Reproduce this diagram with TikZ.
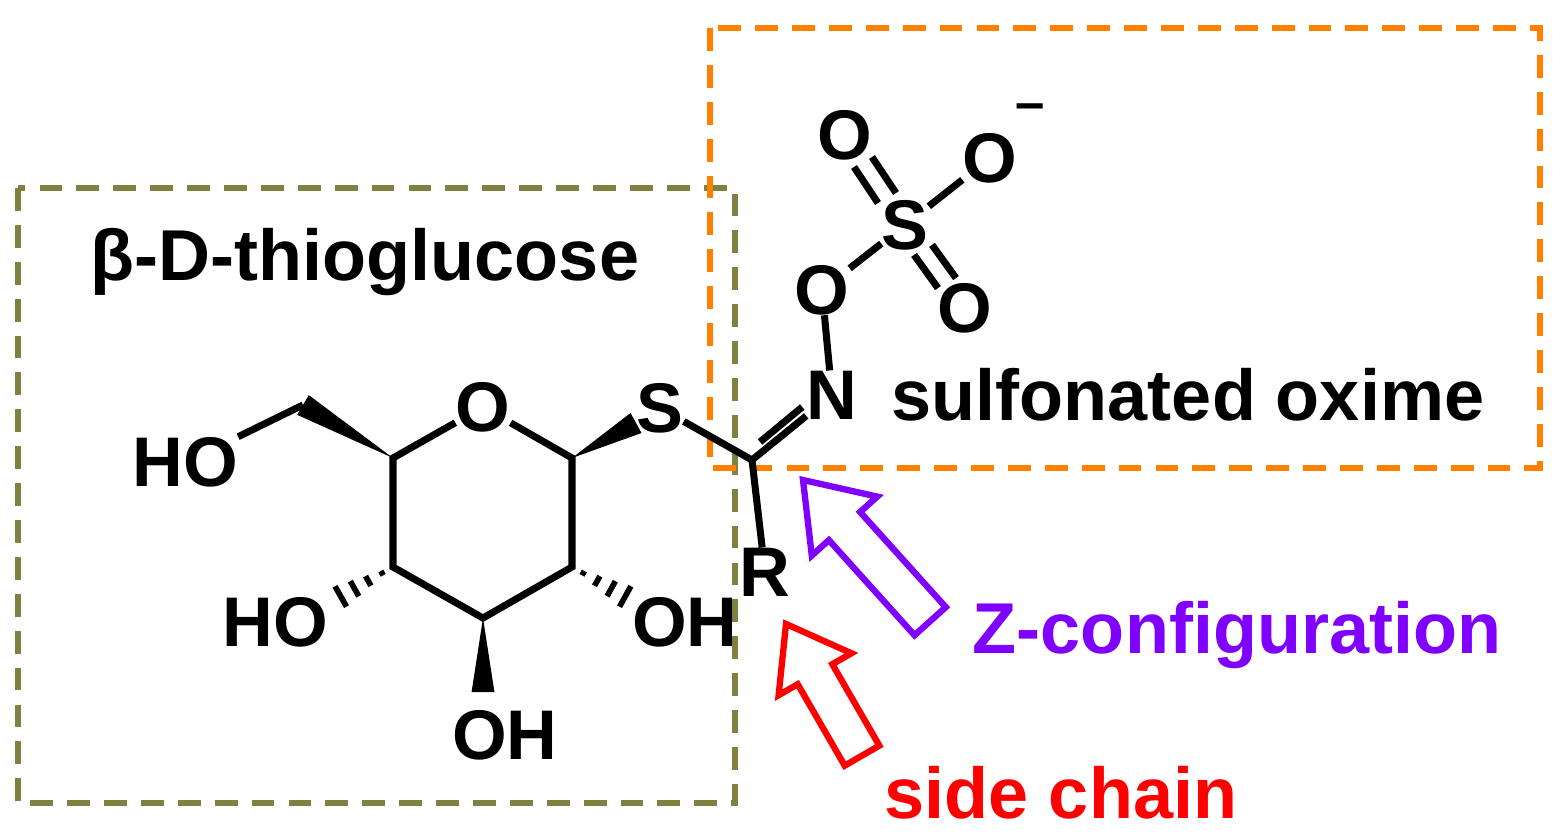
\documentclass[tikz,border=0pt]{standalone}
\usepackage{fontspec}
\setmainfont{Liberation Sans}
\usetikzlibrary{calc}
\definecolor{olivebox}{RGB}{128,128,64}
\definecolor{orangebox}{RGB}{255,128,0}
\definecolor{zpurple}{RGB}{128,0,255}
\tikzset{
  atom/.style={font=\bfseries\fontsize{40}{40}\selectfont, inner sep=0pt},
  lbl/.style={font=\bfseries\fontsize{41}{41}\selectfont, inner sep=0pt},
  bond/.style={line width=4pt},
  box/.style={line width=3.6pt, dash pattern=on 13pt off 8pt},
  harrow/.style={line width=3.6pt, fill=white},
}
\newcommand{\wedgeb}[2]{\fill let \p1=($(#2)-(#1)$), \n1={atan2(\y1,\x1)} in (#1) -- ($(#2)+(\n1+90:6.5pt)$) -- ($(#2)+(\n1-90:6.5pt)$) -- cycle;}
\newcommand{\hashb}[2]{\foreach \t in {0.2,0.45,0.7,0.95}{\draw[line width=3.2pt] let \p1=($(#2)-(#1)$), \n1={atan2(\y1,\x1)} in ($(#1)!\t!(#2)+(\n1+90:7pt*\t)$) -- ($(#1)!\t!(#2)+(\n1-90:7pt*\t)$);}}
\begin{document}
\begin{tikzpicture}[x=0.02cm,y=-0.02cm]
\useasboundingbox (0,0) rectangle (1561,837);
% boxes
\draw[box, olivebox] (18,188) rectangle (735,803);
\draw[box, orangebox] (710,28) rectangle (1540,468);
% labels
\node[lbl] (tg) at (365,262) {β-D-thioglucose};
\node[lbl] (so) at (1188,395) {sulfonated oxime};
\node[lbl, text=zpurple] (zc) at (1237,635) {Z-configuration};
\node[lbl, text=red] (sc) at (1061,793) {side chain};
% ring coordinates
\coordinate (c5) at (393,458);
\node[atom] (o5) at (483,407) {O};
\coordinate (c1) at (572,458);
\coordinate (c2) at (572,567);
\coordinate (c3) at (483,618);
\coordinate (c4) at (393,567);
\coordinate (c6) at (303,405);
\draw[bond, line join=miter] (o5) -- (c5) -- (c4) -- (c3) -- (c2) -- (c1) -- (o5);
\wedgeb{c5}{c6}
\node[atom] (ho6) at (185,462) {HO};
\draw[bond] (c6) -- (ho6.north east);
\node[atom] (s1) at (660,408) {S};
\coordinate (s1w) at (636,423);
\wedgeb{c1}{s1w}
\node[atom] (ho4) at (275,622) {HO};
\coordinate (h4) at (338,598);
\hashb{c4}{h4}
\node[atom] (oh2) at (685,622) {OH};
\coordinate (h2) at (628,598);
\hashb{c2}{h2}
\node[atom] (oh3) at (505,735) {OH};
\coordinate (h3) at (483,692);
\wedgeb{c3}{h3}
% oxime
\coordinate (cc) at (752,460);
\node[atom] (n) at (832,395) {N};
\node[atom] (r) at (765,572) {R};
\draw[bond] (s1) -- (cc);
\draw[bond] (cc) -- (n);
\draw[bond] ($(cc)+(8,-18)$) -- ($(n.west)+(-4,12)$);
\draw[bond] (cc) -- (r);
\node[atom] (o1) at (822,290) {O};
\draw[bond] (n) -- (o1);
\node[atom] (s2) at (905,225) {S};
\draw[bond] (o1) -- (s2);
\node[atom] (o2) at (845,135) {O};
\node[atom] (o3) at (990,158) {O};
\node[atom] (o4) at (965,308) {O};
\draw[bond] ($(s2)!0.3!(o2)+(-9,5)$) -- ($(o2)!0.3!(s2)+(-9,5)$);
\draw[bond] ($(s2)!0.3!(o2)+(9,-5)$) -- ($(o2)!0.3!(s2)+(9,-5)$);
\draw[bond] ($(s2)!0.3!(o4)+(-9,5)$) -- ($(o4)!0.3!(s2)+(-9,5)$);
\draw[bond] ($(s2)!0.3!(o4)+(9,-5)$) -- ($(o4)!0.3!(s2)+(9,-5)$);
\draw[bond] (s2) -- (o3);
\node[font=\bfseries\fontsize{30}{30}\selectfont] (minus) at (1030,112) {–};
% hollow arrows
\begin{scope}[shift={(803,480)}, rotate=132]
\draw[harrow, draw=zpurple] (0,0) -- (-62,-44) -- (-62,-21) -- (-190,-21) -- (-190,21) -- (-62,21) -- (-62,44) -- cycle;
\end{scope}
\begin{scope}[shift={(786,624)}, rotate=120]
\draw[harrow, draw=red] (0,0) -- (-58,-42) -- (-58,-20) -- (-152,-20) -- (-152,20) -- (-58,20) -- (-58,42) -- cycle;
\end{scope}
\end{tikzpicture}
\end{document}
